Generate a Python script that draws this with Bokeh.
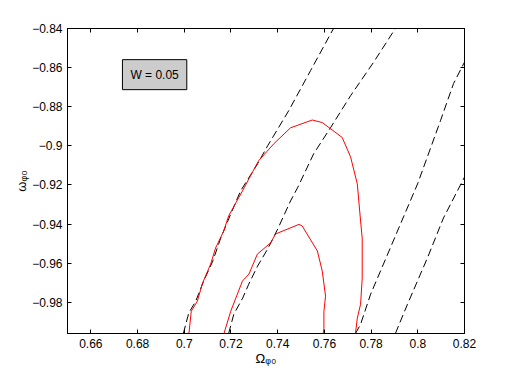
from bokeh.plotting import figure
from bokeh.models import Range1d, FixedTicker, LinearAxis, Label
from bokeh.embed import file_html
from bokeh.resources import INLINE

# ---- data ----
x_ticks = [0.66, 0.68, 0.70, 0.72, 0.74, 0.76, 0.78, 0.80, 0.82]
x_tick_labels = ["0.66", "0.68", "0.7", "0.72", "0.74", "0.76", "0.78", "0.8", "0.82"]
y_ticks = [-0.98, -0.96, -0.94, -0.92, -0.90, -0.88, -0.86, -0.84]
y_tick_labels = ["\u22120.98", "\u22120.96", "\u22120.94", "\u22120.92", "\u22120.9", "\u22120.88", "\u22120.86", "\u22120.84"]
x_label = "\u03a9\u1d69\u2080"
y_label = "\u03c9\u1d69\u2080"

# black dashed contours
b1_x = [0.6996, 0.7019, 0.7049, 0.7083, 0.7122, 0.7156, 0.7199, 0.7241, 0.7314, 0.7357, 0.7447, 0.7541, 0.7639]
b1_y = [-0.996, -0.9856, -0.9795, -0.9692, -0.9590, -0.9472, -0.9349, -0.9231, -0.9092, -0.9000, -0.8821, -0.8615, -0.84]
b2_x = [0.7190, 0.7212, 0.7250, 0.7276, 0.7314, 0.7357, 0.7400, 0.7455, 0.7485, 0.7554, 0.7626, 0.7712, 0.7810, 0.7904]
b2_y = [-0.996, -0.9862, -0.9779, -0.9708, -0.9615, -0.9528, -0.9426, -0.9282, -0.9215, -0.9041, -0.8908, -0.8744, -0.8574, -0.84]
b3_x = [0.7733, 0.7755, 0.7798, 0.7853, 0.7913, 0.7999, 0.8097, 0.8153, 0.8200]
b3_y = [-0.996, -0.9913, -0.9759, -0.9605, -0.9436, -0.9195, -0.8872, -0.8682, -0.8572]
b4_x = [0.7904, 0.7956, 0.8041, 0.8110, 0.8200]
b4_y = [-0.996, -0.9810, -0.9574, -0.9369, -0.9160]

# red contours
r1_x = [0.7020, 0.7030, 0.7056, 0.7078, 0.7113, 0.7134, 0.7169, 0.7190, 0.7249, 0.7318, 0.7383, 0.7455,
        0.7548, 0.7591, 0.7676, 0.7712, 0.7741, 0.7755, 0.7762, 0.7762, 0.7755, 0.7741, 0.7733]
r1_y = [-0.996, -0.9846, -0.9795, -0.9703, -0.9605, -0.9523, -0.9436, -0.9359, -0.9231, -0.9077, -0.8990, -0.8908,
        -0.8868, -0.8881, -0.8957, -0.9056, -0.9195, -0.9385, -0.9472, -0.9677, -0.9810, -0.9882, -0.996]
r2_x = [0.7170, 0.7199, 0.7249, 0.7277, 0.7313, 0.7370, 0.7391, 0.7491, 0.7505, 0.7570, 0.7591, 0.7605,
        0.7598, 0.7598, 0.7595]
r2_y = [-0.996, -0.9846, -0.9692, -0.9656, -0.9554, -0.9496, -0.9451, -0.9402, -0.9410, -0.9538, -0.9641, -0.9769,
        -0.9846, -0.9933, -0.996]

legend_text = "W = 0.05"

FONT = "Liberation Sans"

p = figure(width=504, height=368, output_backend="svg", toolbar_location=None,
           x_range=Range1d(0.65, 0.82), y_range=Range1d(-0.996, -0.84),
           min_border_left=67, min_border_right=40, min_border_top=28, min_border_bottom=34,
           x_axis_location=None, y_axis_location=None)
p.grid.visible = False
p.outline_line_color = "black"
p.outline_line_width = 1
p.background_fill_color = "white"
p.border_fill_color = "white"


def make_axis(ticks, labels, show, title=None):
    ax = LinearAxis(ticker=FixedTicker(ticks=ticks))
    ax.major_tick_in = 4
    ax.major_tick_out = 0
    ax.minor_tick_line_color = None
    ax.axis_line_color = "black"
    ax.major_tick_line_color = "black"
    ax.major_label_text_font = FONT
    ax.major_label_text_font_size = "12px"
    ax.major_label_text_color = "black"
    ax.major_label_standoff = 5
    if show:
        ax.major_label_overrides = {t: l for t, l in zip(ticks, labels)}
    else:
        ax.major_label_overrides = {t: "" for t in ticks}
        ax.major_label_standoff = 0
    if title is not None:
        ax.axis_label = title
        ax.axis_label_text_font = FONT
        ax.axis_label_text_font_size = "13px"
        ax.axis_label_text_font_style = "normal"
        ax.axis_label_text_color = "black"
        ax.axis_label_standoff = 0
    return ax


p.add_layout(make_axis(x_ticks, x_tick_labels, True, x_label), "below")
p.add_layout(make_axis(y_ticks, y_tick_labels, True, y_label), "left")
p.add_layout(make_axis(x_ticks, x_tick_labels, False), "above")
p.add_layout(make_axis(y_ticks, y_tick_labels, False), "right")

for xs, ys in [(b1_x, b1_y), (b2_x, b2_y), (b3_x, b3_y), (b4_x, b4_y)]:
    p.line(xs, ys, line_color="black", line_width=1, line_dash="8 4")
for xs, ys in [(r1_x, r1_y), (r2_x, r2_y)]:
    p.line(xs, ys, line_color="#ff0000", line_width=1)

# legend-like box
p.add_layout(Label(x=0.6873, y=-0.8636, text=legend_text, text_align="center", text_baseline="middle",
                   text_font=FONT, text_font_size="12px", text_color="black",
                   background_fill_color="#cccccc", border_line_color="black", border_line_width=1,
                   padding=8))

open("out.html", "w").write(file_html(p, INLINE))
